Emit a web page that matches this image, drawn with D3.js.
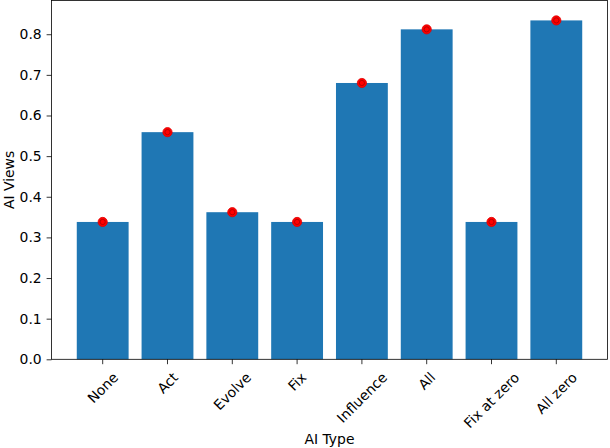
<!DOCTYPE html>
<html><head><meta charset="utf-8">
<script src="https://cdn.jsdelivr.net/npm/d3@7"></script>
<style>body{margin:0;background:#fff}svg{display:block}text{font-family:"DejaVu Sans",sans-serif;fill:#000}</style>
</head><body><svg id="c" width="610" height="448"></svg>
<script>
const categories = ["None","Act","Evolve","Fix","Influence","All","Fix at zero","All zero"];
const values = [0.338,0.559,0.362,0.338,0.680,0.812,0.338,0.834];
const yTicks = [0.0,0.1,0.2,0.3,0.4,0.5,0.6,0.7,0.8];
const xTitle = "AI Type", yTitle = "AI Views";

const svg = d3.select("#c");
const L=51.5, R=607.5, T=0.5, B=359.3;
const fs = 13.9;
const x = d3.scaleLinear().domain([-0.79, categories.length-1+0.79]).range([L,R]);
const y = d3.scaleLinear().domain([0,0.883]).range([B,T]);
const bw = x(0.8)-x(0);

svg.append("g").selectAll("rect").data(values).join("rect")
  .attr("x",(d,i)=>x(i)-bw/2).attr("width",bw)
  .attr("y",d=>y(d)).attr("height",d=>B-y(d)).attr("fill","#1f77b4");

const m = svg.append("g").selectAll("g").data(values).join("g")
  .attr("transform",(d,i)=>`translate(${x(i)},${y(d)})`);
m.append("circle").attr("r",4.6).attr("fill","#ff0000").attr("stroke","#e00000").attr("stroke-width",0.8);
m.append("circle").attr("r",2.6).attr("fill","none").attr("stroke","#b40000").attr("stroke-width",0.9);

// y axis
const ya = svg.append("g").attr("transform",`translate(${L},0)`)
  .call(d3.axisLeft(y).tickValues(yTicks).tickFormat(d3.format(".1f")).tickSize(4.9).tickPadding(4.9));
ya.select(".domain").remove();
ya.selectAll("line").attr("stroke","#000").attr("stroke-width",0.8);
ya.selectAll("text").attr("font-size",fs).attr("font-family","DejaVu Sans").attr("fill","#000");

// x ticks
const xa = svg.append("g");
categories.forEach((c,i)=>{
  const cx = x(i);
  xa.append("line").attr("x1",cx).attr("x2",cx).attr("y1",B).attr("y2",B+4.9).attr("stroke","#000").attr("stroke-width",0.8);
  const t = xa.append("text").attr("font-size",fs).attr("text-anchor","middle").attr("dominant-baseline","central").text(c);
  const w = t.node().getComputedTextLength();
  const h = fs*1.17;
  const bh = (w+h)/Math.SQRT2;
  const cy = B+4.9+4.9+bh/2;
  t.attr("transform",`translate(${cx},${cy}) rotate(-45)`);
});

// spines
svg.append("rect").attr("x",L).attr("y",T).attr("width",R-L).attr("height",B-T)
  .attr("fill","none").attr("stroke","#000").attr("stroke-width",0.8);

svg.append("text").attr("x",(L+R)/2).attr("y",444).attr("text-anchor","middle").attr("font-size",fs).text(xTitle);
svg.append("text").attr("transform",`translate(13.5,${(T+B)/2}) rotate(-90)`).attr("text-anchor","middle").attr("font-size",fs).text(yTitle);
</script></body></html>
